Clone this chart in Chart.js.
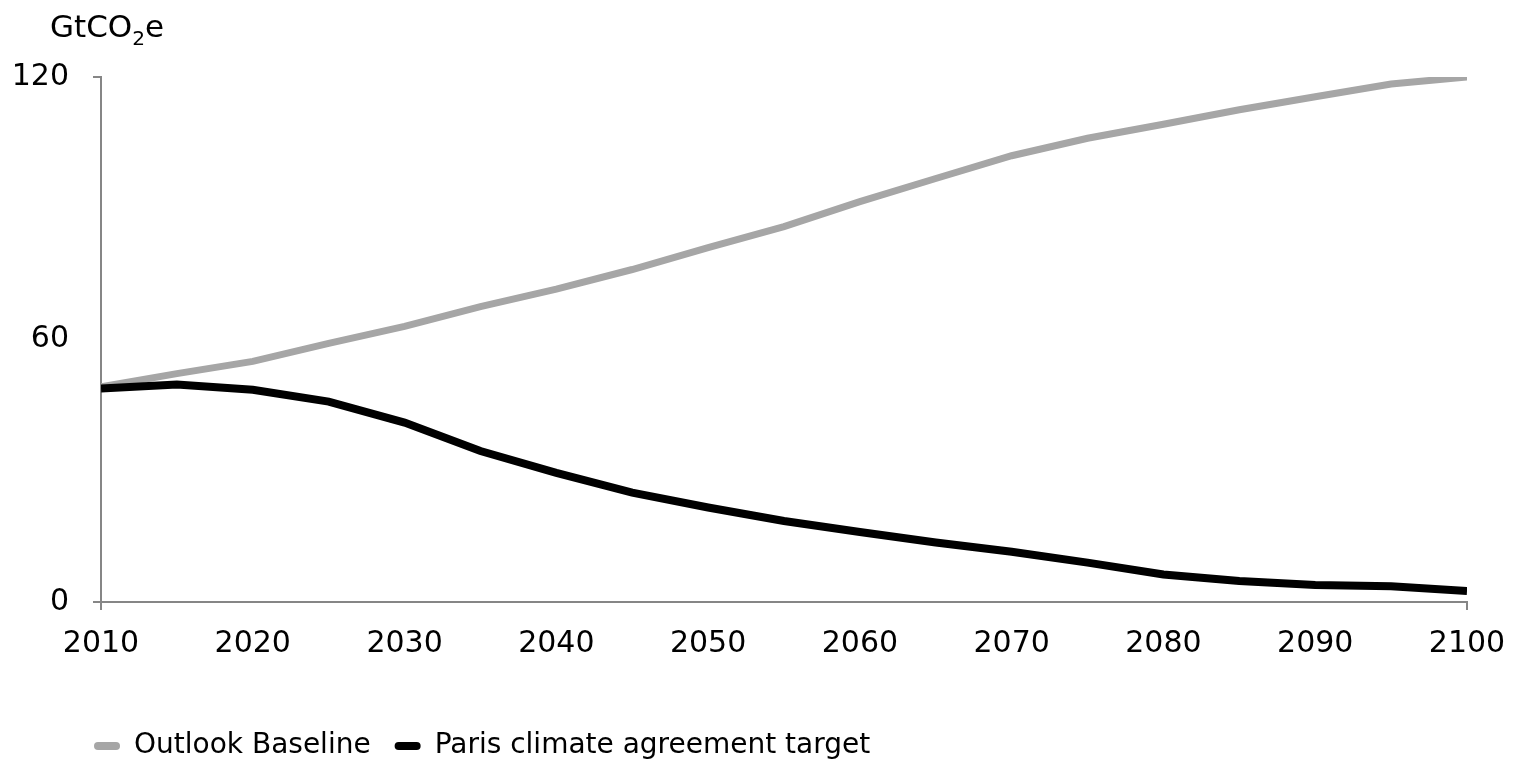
<!DOCTYPE html>
<html>
<head>
<meta charset="utf-8">
<script src="https://cdn.jsdelivr.net/npm/chart.js@4"></script>
<style>
    body { margin: 0; background: #fff; }
    #wrap { position: relative; width: 1514px; height: 760px; }
    #unit {
        position: absolute; left: 50px; top: 11px;
        font-family: "DejaVu Sans", sans-serif; font-size: 31px; line-height: 31px; color: #000;
    }
    #unit sub { font-size: 65%; vertical-align: -8px; line-height: 0; }
</style>
</head>
<body>
<div id="wrap">
    <canvas id="chart" width="1514" height="760"></canvas>
    <div id="unit">GtCO<sub>2</sub>e</div>
</div>
<script>
var years = [2010, 2015, 2020, 2025, 2030, 2035, 2040, 2045, 2050, 2055, 2060, 2065, 2070, 2075, 2080, 2085, 2090, 2095, 2100];
var baseline = [49.2, 52.2, 55.0, 59.1, 63.0, 67.5, 71.5, 76.0, 81.0, 85.8, 91.5, 96.8, 102.0, 106.0, 109.2, 112.5, 115.5, 118.4, 120.0];
var paris = [48.8, 49.7, 48.5, 45.8, 41.0, 34.5, 29.5, 25.0, 21.6, 18.5, 16.0, 13.6, 11.5, 9.0, 6.3, 4.8, 3.9, 3.6, 2.5];
var yTicks = [0, 60, 120];
var xTicks = [2010, 2020, 2030, 2040, 2050, 2060, 2070, 2080, 2090, 2100];

var axisColor = "#868686";
var font = { family: "DejaVu Sans", size: 30 };

function points(vals) {
    return years.map(function (y, i) { return { x: y, y: vals[i] }; });
}

// only the two end ticks get a tick mark
function endTick(ctx) {
    var n = ctx.scale.ticks.length;
    return (ctx.index === 0 || ctx.index === n - 1) ? axisColor : "rgba(0,0,0,0)";
}

// put the legend under the axis, starting near the left edge
var moveLegend = {
    id: "moveLegend",
    afterLayout: function (chart) {
        var lg = chart.legend;
        var dx = 70 - lg.left, dy = 42;
        lg.left += dx; lg.right += dx;
        lg.top += dy; lg.bottom += dy;
    }
};

var data = {
    datasets: [{
        label: "Outlook Baseline",
        data: points(baseline),
        borderColor: "#a6a6a6",
        backgroundColor: "#a6a6a6",
        borderWidth: 7,
        pointRadius: 0,
        tension: 0,
        order: 1
    }, {
        label: "Paris climate agreement target",
        data: points(paris),
        borderColor: "#000000",
        backgroundColor: "#000000",
        borderWidth: 8,
        pointRadius: 0,
        tension: 0,
        order: 0
    }]
};

var options = {
    responsive: false,
    animation: false,
    layout: { padding: { top: 77, right: 47, bottom: 32, left: 13 } },
    scales: {
        x: {
            type: "linear",
            min: 2010,
            max: 2100,
            afterBuildTicks: function (scale) {
                scale.ticks = xTicks.map(function (v) { return { value: v }; });
            },
            afterFit: function (scale) {
                scale.height = 64;
                scale.paddingLeft = 0;
                scale.paddingRight = 0;
            },
            border: { color: axisColor, width: 2 },
            grid: { drawOnChartArea: false, tickLength: 8, color: endTick, lineWidth: 2 },
            ticks: {
                color: "#000",
                font: font,
                padding: 16,
                maxRotation: 0,
                callback: function (v) { return String(v); }
            }
        },
        y: {
            min: 0,
            max: 120,
            afterBuildTicks: function (scale) {
                scale.ticks = yTicks.map(function (v) { return { value: v }; });
            },
            afterFit: function (scale) { scale.width = 88; },
            border: { color: axisColor, width: 2 },
            grid: { drawOnChartArea: false, tickLength: 8, color: endTick, lineWidth: 2 },
            ticks: { color: "#000", font: font, padding: 24 }
        }
    },
    plugins: {
        tooltip: { enabled: false },
        legend: {
            position: "bottom",
            align: "start",
            labels: {
                color: "#000",
                font: { family: "DejaVu Sans", size: 28 },
                boxWidth: 26,
                boxHeight: 8,
                useBorderRadius: true,
                borderRadius: 4,
                padding: 24,
                sort: function (a, b) { return a.datasetIndex - b.datasetIndex; },
                generateLabels: function (chart) {
                    return Chart.defaults.plugins.legend.labels.generateLabels(chart).map(function (l) {
                        l.lineWidth = 0;
                        return l;
                    });
                }
            }
        }
    }
};

new Chart("chart", { type: "line", data: data, options: options, plugins: [moveLegend] });
</script>
</body>
</html>
